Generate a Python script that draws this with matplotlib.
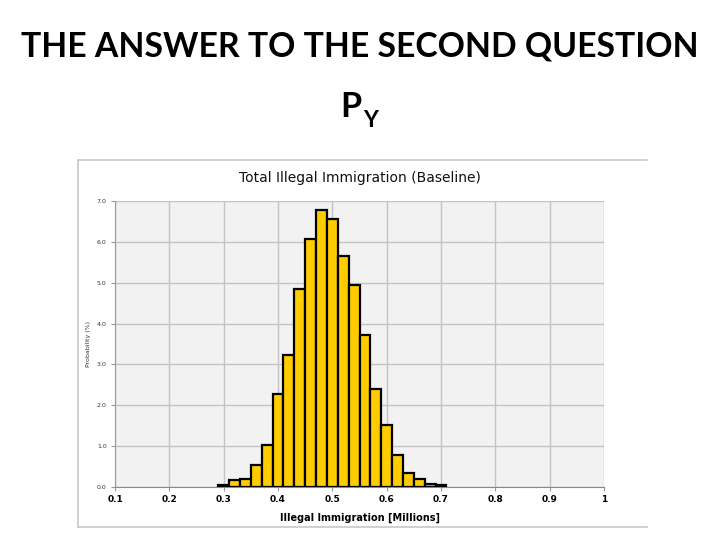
import numpy as np
import matplotlib.pyplot as plt
from matplotlib.lines import Line2D

# histogram (bin width 0.02, density)
bin_centers = [0.30, 0.32, 0.34, 0.36, 0.38, 0.40, 0.42, 0.44, 0.46, 0.48, 0.50,
               0.52, 0.54, 0.56, 0.58, 0.60, 0.62, 0.64, 0.66, 0.68, 0.70]
density = [0.04, 0.16, 0.19, 0.55, 1.03, 2.27, 3.22, 4.84, 6.07, 6.79, 6.56,
           5.65, 4.94, 3.71, 2.40, 1.51, 0.78, 0.35, 0.19, 0.08, 0.04]
x_ticks = [0.1, 0.2, 0.3, 0.4, 0.5, 0.6, 0.7, 0.8, 0.9, 1.0]
x_tick_labels = ['0.1', '0.2', '0.3', '0.4', '0.5', '0.6', '0.7', '0.8', '0.9', '1']
y_ticks = [0, 1, 2, 3, 4, 5, 6, 7]
y_tick_labels = ['0.0', '1.0', '2.0', '3.0', '4.0', '5.0', '6.0', '7.0']

fig = plt.figure(figsize=(7.2, 5.4), dpi=100)

# slide headings
fig.text(0.5, 1-56.5/540, 'THE ANSWER TO THE SECOND QUESTION', ha='center', va='baseline',
         fontsize=24.3, family='Lato', weight='bold', color='black')
fig.text(361/720, 1-117/540, 'P', ha='right', va='baseline',
         fontsize=24.5, family='Lato', weight='bold', color='black')
fig.text(363/720, 1-127/540, 'Y', ha='left', va='baseline',
         fontsize=16.5, family='Lato', weight='bold', color='black')

# chart frame (light gray lines)
frame_kw = dict(color='#c8c8c8', lw=1.2, transform=fig.transFigure)
fig.add_artist(Line2D([78/720, 647/720], [1-160/540, 1-160/540], **frame_kw))
fig.add_artist(Line2D([78/720, 647/720], [1-527/540, 1-527/540], **frame_kw))
fig.add_artist(Line2D([78/720, 78/720], [1-160/540, 1-527/540], **frame_kw))

ax = fig.add_axes([115/720, 1-487/540, (604-115)/720, (487-201)/540])
ax.set_facecolor('#f2f2f2')
ax.bar(bin_centers, density, width=0.02, color='#ffcc00', edgecolor='black',
       linewidth=1.6, zorder=3)

ax.set_xlim(0.1, 1.0)
ax.set_ylim(0, 7)
ax.set_xticks(x_ticks)
ax.set_xticklabels(x_tick_labels, fontsize=6.5, weight='bold', family='DejaVu Sans')
ax.set_yticks(y_ticks)
ax.set_yticklabels(y_tick_labels, fontsize=4.5, color='#333333')
ax.grid(True, color='#c4c4c4', lw=1.0, zorder=0)
ax.set_axisbelow(True)
for side in ['top', 'right']:
    ax.spines[side].set_visible(False)
ax.spines['left'].set_color('#999999')
ax.spines['bottom'].set_color('#888888')
ax.tick_params(axis='both', length=3, width=0.8, color='#999999', pad=3)

ax.set_title('Total Illegal Immigration (Baseline)', fontsize=10, pad=14,
             family='DejaVu Sans', color='#111111')
ax.set_xlabel('Illegal Immigration [Millions]', fontsize=7, weight='bold', labelpad=6)
ax.set_ylabel('Probability (%)', fontsize=4.5, color='#333333', labelpad=4)

fig.savefig('out.png', dpi=100)
